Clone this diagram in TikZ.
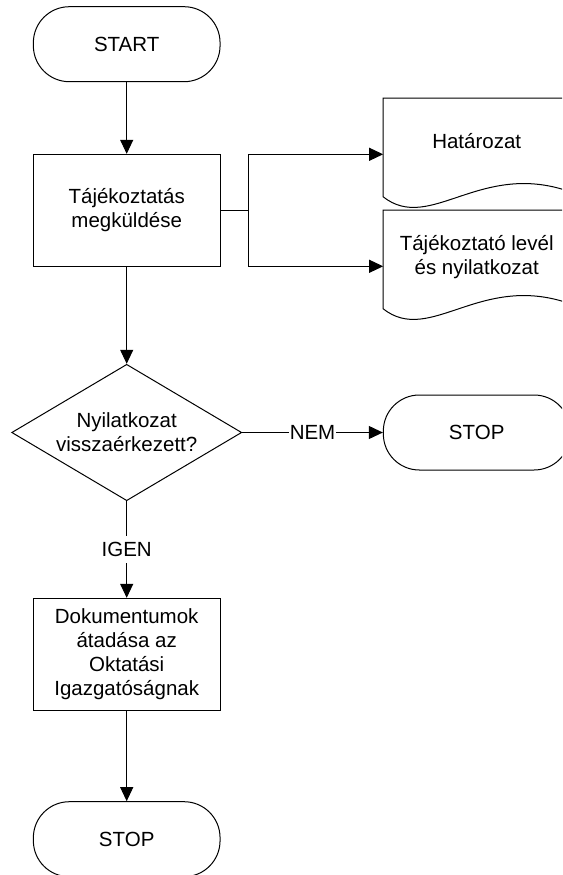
\documentclass[tikz,border=0pt]{standalone}
\usepackage{fontspec}
\setmainfont{Liberation Sans}
\usetikzlibrary{shapes.geometric,arrows.meta,calc}

% outline of a "document" symbol laid over an invisible docbox node
\newcommand\docoutline[1]{%
  \draw[link] ($(#1.north west)+(0,98.7)$) -- (#1.north west) -- (#1.north east)
    -- ($(#1.north east)+(0,93.7)$)
    .. controls ($(#1.north west)+(97,61.7)$) and ($(#1.north west)+(47,135.7)$)
    .. ($(#1.north west)+(0,98.7)$) -- cycle;}

\tikzset{
  txt/.style={font=\fontsize{20.5}{24.3}\selectfont, align=center},
  base/.style={txt, draw=black, line width=1pt},
  terminal/.style={base, rectangle, rounded corners=36pt,
    minimum width=186.7pt, minimum height=75pt},
  process/.style={base, rectangle, inner sep=0pt,
    minimum width=186.7pt, minimum height=111.7pt},
  decision/.style={base, diamond, inner sep=0pt, aspect=1.686,
    minimum width=230pt, minimum height=136.4pt},
  docbox/.style={rectangle, inner sep=0pt,
    minimum width=186.7pt, minimum height=112pt},
  link/.style={line width=1pt, draw=black},
  flow/.style={link, -{Triangle[length=14pt,width=13pt]}},
  lbl/.style={txt, fill=white, inner xsep=1pt, inner ysep=6pt},
}

\begin{document}
\begin{tikzpicture}[x=1pt, y=-1pt]
  \useasboundingbox (0,0) rectangle (562,875);
  \clip (0,0) rectangle (562,875);

  % main column
  \node[terminal] (start) at (126.7,44.2)  {START};
  \node[process]  (send)  at (126.7,210.2) {Tájékoztatás\\megküldése};
  \node[decision] (ask)   at (126.7,432.5) {Nyilatkozat\\visszaérkezett?};
  \node[process]  (hand)  at (126.7,654.2) {Dokumentumok\\átadása az\\Oktatási\\Igazgatóságnak};
  \node[terminal] (stopb) at (126.7,839.2) {STOP};

  % right-hand column
  \node[terminal] (stopa) at (476.7,432.5) {STOP};
  \node[docbox] (doca) at (476.7,154.3) {};
  \node[docbox] (docb) at (476.7,266.3) {};
  \docoutline{doca}
  \docoutline{docb}
  \node[txt] (docatext) at ($(doca.center)+(0,-13)$) {Határozat};
  \node[txt] (docbtext) at ($(docb.center)+(0,-9)$) {Tájékoztató levél\\és nyilatkozat};

  % connectors
  \coordinate (split) at (248.3,210.2);
  \draw[flow] (start.south) -- (send.north);
  \draw[link] (send.east) -- (split);
  \draw[flow] (split) |- (doca.west);
  \draw[flow] (split) |- (docb.west);
  \draw[flow] (send.south) -- (ask.north);
  \draw[flow] (ask.east) -- node[lbl] {NEM} (stopa.west);
  \draw[flow] (ask.south) -- node[lbl] {IGEN} (hand.north);
  \draw[flow] (hand.south) -- (stopb.north);
\end{tikzpicture}
\end{document}
